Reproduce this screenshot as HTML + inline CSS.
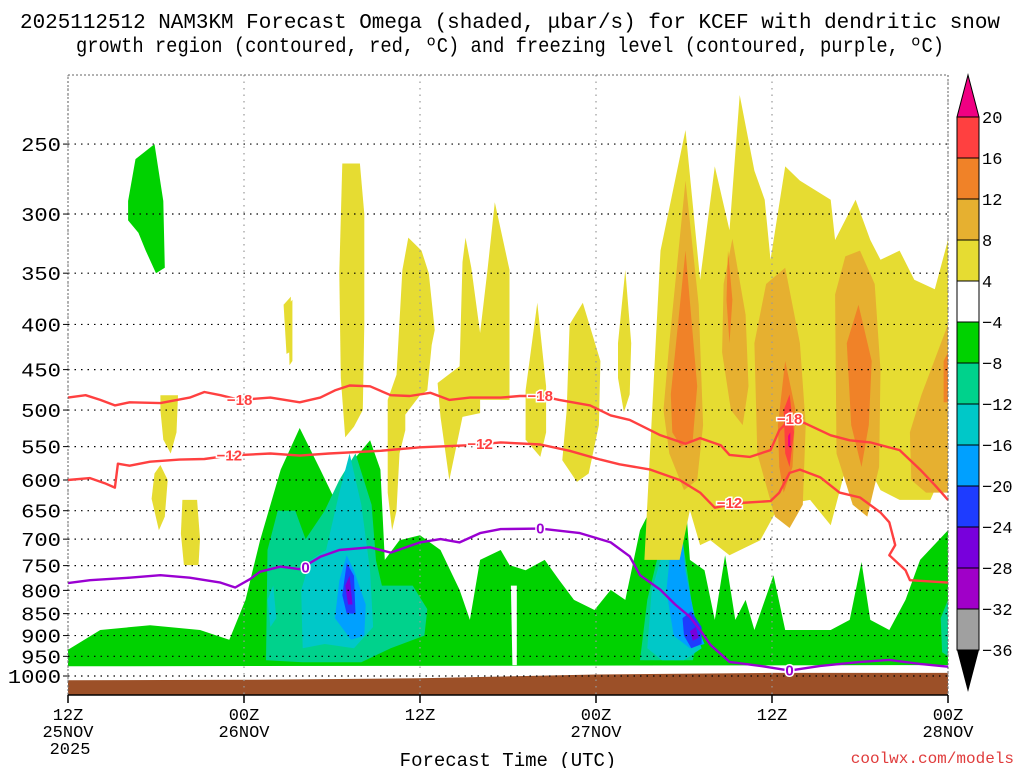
<!DOCTYPE html>
<html><head><meta charset="utf-8"><style>
html,body{margin:0;padding:0;background:#fff;}
svg{display:block;font-family:"Liberation Mono",monospace;}
</style></head><body>
<svg id="chart" width="1024" height="768" viewBox="0 0 1024 768" xmlns="http://www.w3.org/2000/svg">
<text x="510" y="28" font-size="21" text-anchor="middle" textLength="980" lengthAdjust="spacingAndGlyphs">2025112512 NAM3KM Forecast Omega (shaded, μbar/s) for KCEF with dendritic snow</text>
<text x="510" y="52" font-size="21" text-anchor="middle" textLength="868" lengthAdjust="spacingAndGlyphs">growth region (contoured, red, ºC) and freezing level (contoured, purple, ºC)</text>
<g id="shade"></g>
<g id="grid"></g>
<g id="lines"></g>
<g id="axes"></g>
<g id="cbar"></g>
<text x="508" y="766" font-size="19" text-anchor="middle">Forecast Time (UTC)</text>
<text x="1014" y="763" font-size="16" text-anchor="end" fill="#e03c3c">coolwx.com/models</text>
</svg>
<script>
const pressureTicks=[250,300,350,400,450,500,550,600,650,700,750,800,850,900,950,1000];
const timeTicks=[0,12,24,36,48,60];
const timeLabels=[["12Z","25NOV","2025"],["00Z","26NOV",""],["12Z","",""],["00Z","27NOV",""],["12Z","",""],["00Z","28NOV",""]];
const cbarLabels=["20","16","12","8","4","−4","−8","−12","−16","−20","−24","−28","−32","−36"];
const cbarColors=["#ff4040","#f08228","#e6b030","#e6dc32","#ffffff","#00d200","#00d28c","#00c8c8","#00a0ff","#1e3cff","#7800dc","#a000c8","#a0a0a0"];
const surfHours=[0,12,24,36,48,60];
const surfP=[1011,1010,1006,996,992,992];
const shadeColors={y:"#e6dc32",o:"#e6b030",do:"#f08228",r:"#ff4040",pk:"#f00082",g:"#00d200",t:"#00d28c",c:"#00c8c8",b:"#00a0ff",db:"#1e3cff",p:"#7800dc",w:"#ffffff"};
const blobLevels=["g","g","t","t","t","c","c","c","b","b","db","db","p","p","w","y","y","y","y","y","y","y","y","y","y","y","o","o","o","o","o","do","do","do","do","do","r","pk","y"];
const blobPts=[
[[4.1,290],[4.6,260],[5.9,250],[6.5,290],[6.6,345],[6.0,350],[5.3,330],[4.8,315],[4.1,305]],
[[0,934],[2.2,887],[5.6,876],[9,887],[11,910],[12.1,820],[13.1,702],[14.5,584],[15.8,524],[17.2,584],[18.2,632],[19.6,566],[20.6,541],[21.3,584],[21.6,739],[22.6,702],[24,693],[25.4,720],[26.7,799],[27.4,864],[28.1,739],[29.5,720],[30.1,749],[31.2,759],[32.5,739],[33.5,779],[34.5,820],[35.9,842],[37,799],[38,820],[39,684],[39.7,649],[40.4,641],[41,616],[42.1,632],[42.4,739],[43.4,759],[44.1,864],[44.8,730],[45.5,864],[46.2,820],[46.8,887],[48.1,769],[48.9,887],[52,887],[53.3,864],[54.1,743],[54.7,864],[56,887],[57.1,820],[58.1,739],[60,684],[60,972],[0,975]],
[[13.5,960],[13.6,720],[14.3,650],[15.5,650],[16.2,700],[17.5,650],[18.5,600],[19.6,560],[20.7,640],[21.0,740],[21.4,790],[23.5,790],[24.5,840],[24.3,900],[22.0,930],[20.0,965],[16.0,965]],
[[39.0,960],[39.5,820],[40.5,700],[41.3,660],[41.9,700],[42.5,820],[43.0,900],[42.6,960]],
[[59.5,860],[60,820],[60,950],[59.6,940]],
[[16.0,930],[15.9,800],[16.5,740],[17.6,720],[18.5,620],[19.2,560],[20.0,640],[20.6,760],[20.8,880],[19.5,930],[17.5,920]],
[[13.6,820],[14.0,790],[14.2,860],[13.8,880]],
[[39.5,930],[39.8,800],[40.6,720],[41.2,650],[41.9,720],[42.5,860],[43.2,930],[42.0,960],[40.5,960]],
[[18.2,860],[18.5,780],[19.0,730],[19.5,760],[20.3,830],[20.2,900],[19.3,910]],
[[40.8,800],[41.2,690],[41.8,670],[42.1,760],[42.8,870],[43.4,920],[42.4,930],[41.3,900]],
[[18.7,810],[19.0,745],[19.5,770],[19.6,850],[19.0,850]],
[[41.9,860],[42.5,845],[43.2,880],[43.2,920],[42.5,930],[42.0,900]],
[[18.9,790],[19.2,770],[19.4,830],[19.1,830]],
[[42.4,890],[42.8,880],[43.0,905],[42.6,912]],
[[30.2,790],[30.6,790],[30.6,972],[30.3,972]],
[[6.3,481],[7.5,481],[7.4,530],[7.0,560],[6.5,540],[6.3,500]],
[[5.9,590],[6.3,577],[6.8,600],[6.6,660],[6.2,684],[5.7,630]],
[[7.8,632],[8.8,632],[9.0,700],[8.9,749],[7.9,749],[7.7,690]],
[[15.0,380],[15.3,375],[15.3,440],[15.1,445]],
[[18.7,263],[19.9,263],[20.2,300],[20.2,400],[20.1,500],[19.5,522],[18.9,537],[18.6,460],[18.5,350]],
[[23.2,319],[24.1,330],[24.6,350],[25.0,406],[24.8,422],[24.5,475],[24.0,481],[23.0,506],[23.0,527],[22.6,560],[22.4,650],[22.1,684],[21.8,620],[21.8,487],[22.4,456],[22.8,347]],
[[27.1,319],[27.5,345],[28.1,409],[28.6,347],[29.1,291],[30.1,347],[30.1,487],[28.1,487],[28.1,504],[26.9,509],[26.0,600],[25.4,509],[25.2,466],[26.7,446],[26.9,340]],
[[31.2,475],[32.0,378],[32.6,470],[32.6,530],[32.2,565],[31.2,540]],
[[34.2,400],[35.1,378],[36.3,440],[36.2,520],[35.5,590],[34.7,603],[33.7,570],[34.0,500]],
[[37.5,420],[38.0,347],[38.4,420],[38.3,480],[37.9,503],[37.5,460]],
[[39.3,739],[40.4,330],[42.1,241],[43.1,356],[44.1,265],[45.1,313],[45.8,220],[46.8,268],[47.5,289],[47.9,338],[48.9,265],[49.9,275],[52,289],[52.3,321],[53.7,289],[54.7,321],[55.4,338],[56.7,330],[57.7,356],[59.1,365],[60,321],[60,570],[58.8,632],[56.7,632],[55.4,616],[54,555],[53,584],[52,675],[50.6,632],[48.5,641],[47.2,702],[45.1,730],[43.8,702],[43.1,711],[42.4,649],[41.7,739],[40.4,739]],
[[41.0,420],[42.1,275],[43.0,380],[43.3,520],[42.9,600],[42.0,616],[41.0,560],[40.6,500]],
[[44.7,360],[45.3,320],[46.2,390],[46.4,470],[46.0,520],[45.2,500],[44.6,430]],
[[46.8,420],[47.6,360],[48.9,345],[49.9,420],[50.3,520],[50.1,640],[49.2,680],[48.2,660],[47.0,560]],
[[52.3,370],[53.0,335],[54.0,330],[55.0,360],[55.4,450],[55.3,580],[54.5,660],[53.5,640],[52.4,560]],
[[57.4,530],[58.2,480],[60,400],[60,620],[58.5,620],[57.5,600]],
[[41.1,480],[42.1,330],[42.9,470],[42.6,540],[41.8,550],[41.2,530]],
[[44.9,375],[45.0,330],[45.3,375],[45.1,420]],
[[48.4,520],[48.9,440],[49.6,500],[49.4,580],[48.8,620],[48.5,580]],
[[53.1,420],[53.9,380],[54.8,440],[54.6,520],[54.1,580],[53.4,520]],
[[59.7,440],[60,430],[60,490],[59.7,490]],
[[48.8,500],[49.2,480],[49.5,530],[49.2,580],[48.9,560]],
[[49.1,535],[49.25,530],[49.25,550],[49.1,550]],
[[14.7,380],[15.2,372],[15.1,430],[14.9,432]]
];
const dgz18=[[0,484],[1.2,481],[2.2,487],[3.2,494],[4.2,490],[6.3,491],[8.3,484],[9.3,477],[10.4,481],[11.7,487],[13.8,484],[15.8,490],[17.2,484],[18.2,475],[19.2,469],[20.6,470],[22,481],[23.3,482],[24.7,478],[26,487],[27.4,484],[29.5,484],[30.8,482],[32.2,482],[33.5,487],[35.6,494],[37,507],[38.3,513],[40.4,534],[42.1,546],[43.1,538],[44.5,548],[45.1,562],[46.5,565],[47.9,555],[48.5,527],[49.2,513],[50.2,517],[52,534],[53.3,541],[54.7,544],[56.7,555],[58.1,584],[59.1,608],[60,632]];
const dgz12=[[0,600],[1.5,597],[2.5,605],[3.2,612],[3.4,575],[4.2,578],[5.6,572],[7.6,569],[9.3,568],[11,563],[13.8,560],[15.8,563],[17.8,560],[21.3,556],[24,551],[27.4,548],[29.5,544],[32.2,547],[34.2,556],[36.3,569],[37.6,576],[39.7,584],[41.7,600],[43.1,620],[44.1,645],[45.8,637],[47.9,634],[48.5,620],[49.2,589],[49.9,584],[51.3,596],[52.6,620],[54,628],[55.4,653],[56,670],[56.4,711],[56,730],[57.1,759],[57.4,779],[60,784]];
const frz0=[[0,785],[1.5,779],[4.2,774],[6.3,769],[8.3,774],[10.4,784],[11.4,794],[12.4,777],[13.1,762],[14.5,752],[15.8,757],[17.2,733],[18.5,720],[20.6,715],[22,725],[24,706],[25.4,700],[26.7,706],[28.1,689],[29.5,682],[32.2,681],[34.9,689],[37,706],[38.3,732],[39,769],[40.4,799],[41.4,830],[42.4,857],[43.1,887],[43.8,922],[45.1,964],[47.2,974],[49.2,986],[51.3,974],[54,964],[56,959],[58.1,969],[60,976]];
const lineLabels=[["−18",11.7,487,"#ff4040"],["−18",32.2,482,"#ff4040"],["−18",49.2,512,"#ff4040"],["−12",11.0,563,"#ff4040"],["−12",28.1,546,"#ff4040"],["−12",45.1,637,"#ff4040"],["0",16.2,754,"#9a00d2"],["0",32.2,681,"#9a00d2"],["0",49.2,986,"#9a00d2"]];

const X0=68,X1=948,Y1000=676,S=383.7;
function xs(h){return X0+(X1-X0)*h/60;}
function ys(p){return Y1000-S*Math.log(1000/p);}
const NS="http://www.w3.org/2000/svg";
function mk(tag,parent,attrs){const e=document.createElementNS(NS,tag);for(const k in attrs)e.setAttribute(k,attrs[k]);parent.appendChild(e);return e;}
function ptsStr(a){return a.map(q=>xs(q[0]).toFixed(1)+","+ys(q[1]).toFixed(1)).join(" ");}

const shade=document.getElementById("shade");
blobPts.forEach((pts,i)=>{
  const el=mk("polygon",shade,{points:ptsStr(pts),fill:shadeColors[blobLevels[i]]});
  
  
});
const gp=[];surfHours.forEach((h,i)=>gp.push(xs(h).toFixed(1)+","+ys(surfP[i]).toFixed(1)));
gp.push(X1+",695");gp.push(X0+",695");
const ground=mk("polygon",shade,{points:gp.join(" "),fill:"#9c5028"});



const grid=document.getElementById("grid");
pressureTicks.forEach(p=>{
  const l=mk("line",grid,{x1:X0,x2:X1,y1:ys(p),y2:ys(p),stroke:"#000","stroke-width":1.2,"stroke-dasharray":"1.5 5"});
  
  
});
timeTicks.forEach(h=>{
  const l=mk("line",grid,{x1:xs(h),x2:xs(h),y1:75,y2:695,stroke:"#999","stroke-width":1.2,"stroke-dasharray":"1.5 5"});
  
  
});

const lines=document.getElementById("lines");
[[dgz18,"#ff4040","dgz-minus18-contour"],[dgz12,"#ff4040","dgz-minus12-contour"],[frz0,"#9a00d2","freezing-level-contour"]].forEach(s=>{
  const pl=mk("polyline",lines,{points:ptsStr(s[0]),fill:"none",stroke:s[1],"stroke-width":2.4,"stroke-linejoin":"round"});
  
  
});
lineLabels.forEach(l=>{
  const t=mk("text",lines,{x:xs(l[1]),y:ys(l[2])+5,"font-size":15,"font-weight":"bold","text-anchor":"middle",fill:l[3],stroke:"#fff","stroke-width":3,"paint-order":"stroke","font-family":"Liberation Sans, sans-serif"});
  t.textContent=l[0];
  
  
});

const axes=document.getElementById("axes");
const frame=mk("rect",axes,{x:X0,y:75,width:X1-X0,height:620,fill:"none",stroke:"#666","stroke-width":1,"stroke-dasharray":"2 2"});


const bax=mk("line",axes,{x1:X0,x2:X1,y1:695,y2:695,stroke:"#000","stroke-width":1.5});


pressureTicks.forEach(p=>{
  const s=String(p);
  const t=mk("text",axes,{x:61,y:ys(p)+7,"font-size":19,"text-anchor":"end",textLength:s.length*13.3,lengthAdjust:"spacingAndGlyphs"});
  t.textContent=s;
  
  
  const tk=mk("line",axes,{x1:X0-5,x2:X0,y1:ys(p),y2:ys(p),stroke:"#000"});
  
  
});
timeTicks.forEach((h,i)=>{
  const tk=mk("line",axes,{x1:xs(h),x2:xs(h),y1:695,y2:703,stroke:"#000","stroke-width":1.5});
  
  
  timeLabels[i].forEach((s,j)=>{
    if(!s)return;
    const t=mk("text",axes,{x:xs(h)+(j==2?2:0),y:720+j*17,"font-size":17,"text-anchor":"middle"});
    t.textContent=s;
    
    
  });
});

const cb=document.getElementById("cbar");
const CX=957,CW=22,CT=117,CH=41;
const tri=mk("polygon",cb,{points:`${CX},${CT} ${CX+CW},${CT} ${CX+CW/2},75`,fill:"#f00082",stroke:"#000"});


cbarColors.forEach((c,i)=>{
  const r=mk("rect",cb,{x:CX,y:CT+i*CH,width:CW,height:CH,fill:c,stroke:"#000","stroke-width":1});
  
  
});
const tri2=mk("polygon",cb,{points:`${CX},${CT+13*CH} ${CX+CW},${CT+13*CH} ${CX+CW/2},692`,fill:"#000"});


cbarLabels.forEach((s,i)=>{
  const t=mk("text",cb,{x:982,y:CT+i*CH+6,"font-size":17});
  t.textContent=s;
  
  
});
</script>
</body></html>
